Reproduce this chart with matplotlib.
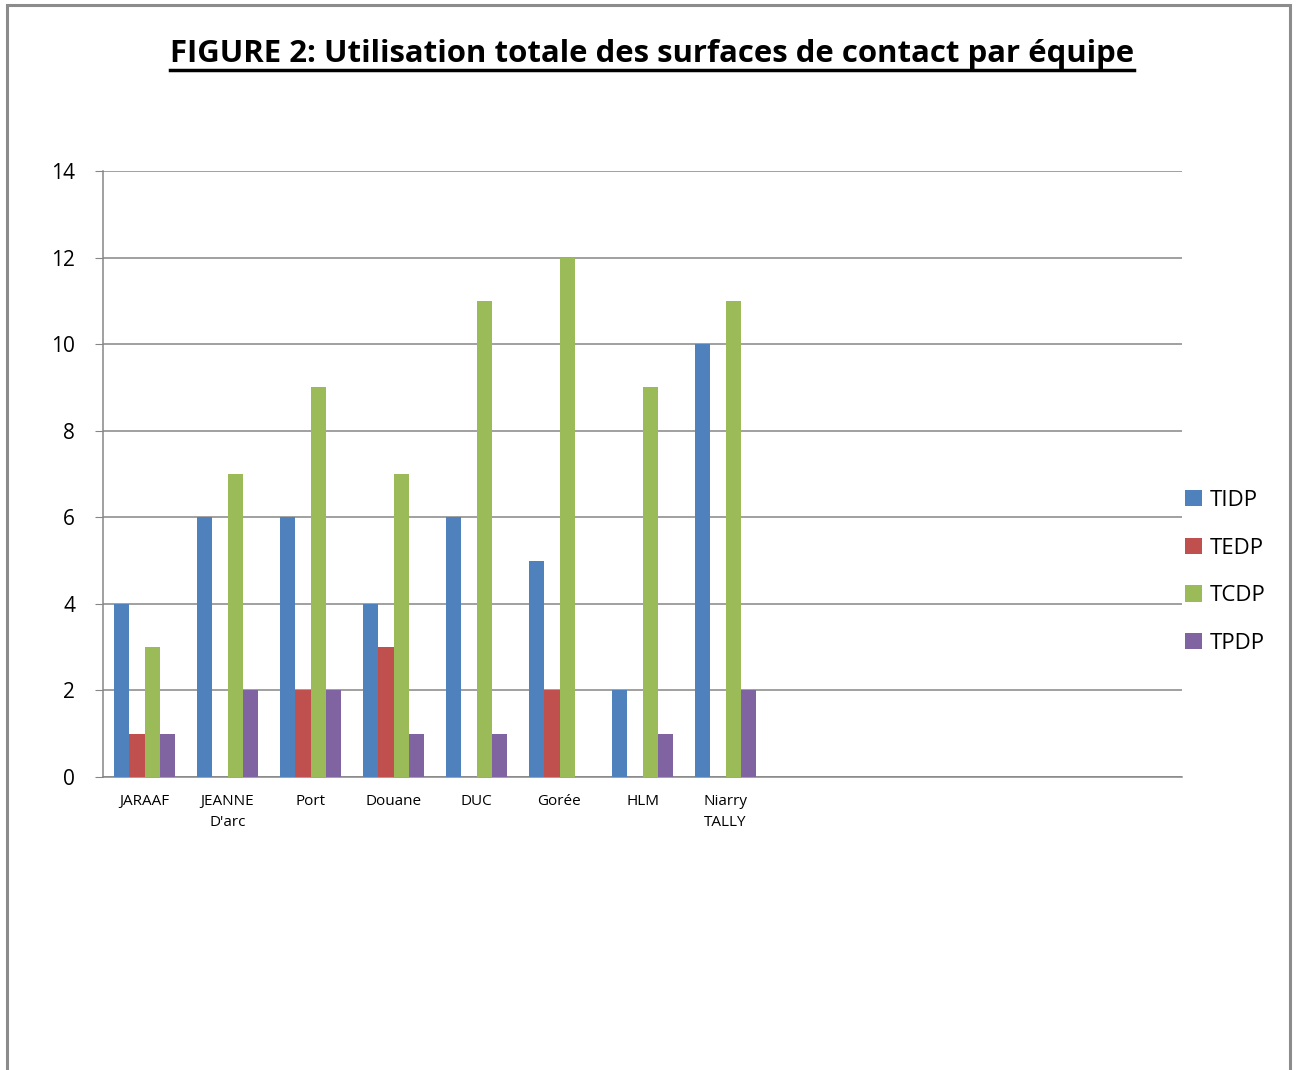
import matplotlib
matplotlib.use('Agg')
import matplotlib.pyplot as plt
import numpy as np
from matplotlib.patches import Rectangle
from matplotlib.lines import Line2D

# data
teams = ['JARAAF', 'JEANNE\nD\'arc', 'Port', 'Douane', 'DUC', 'Gorée', 'HLM', 'Niarry\nTALLY',
         '', '', '', '', '']
tidp = [4, 6, 6, 4, 6, 5, 2, 10]
tedp = [1, 0, 2, 3, 0, 2, 0, 0]
tcdp = [3, 7, 9, 7, 11, 12, 9, 11]
tpdp = [1, 2, 2, 1, 1, 0, 1, 2]
series_names = ['TIDP', 'TEDP', 'TCDP', 'TPDP']
colors = ['#4F81BD', '#C0504D', '#9BBB59', '#8064A2']
title = 'FIGURE 2: Utilisation totale des surfaces de contact par équipe'

W, H = 1296, 1070
fig = plt.figure(figsize=(W / 100, H / 100), dpi=100)
fig.patch.set_facecolor('white')

# page border
fig.patches.append(Rectangle((7 / W, -0.05), (1290 - 7) / W, 1.05 - 5 / H,
                             transform=fig.transFigure, fill=False,
                             edgecolor='#8c8c8c', linewidth=2.2))

ax = fig.add_axes([103 / W, 1 - 777 / H, (1182 - 103) / W, (777 - 171) / H])

bw = 1 / 5.5
x = np.arange(len(teams))
xd = np.arange(len(tidp))
for i, (vals, col, name) in enumerate(zip([tidp, tedp, tcdp, tpdp], colors, series_names)):
    ax.bar(xd + (i - 1.5) * bw, vals, width=bw, color=col, label=name, zorder=3)

ax.set_xlim(-0.5, len(teams) - 0.5)
ax.set_ylim(0, 14)
ax.set_yticks(range(0, 15, 2))
ax.yaxis.grid(True, color='#868686', linewidth=1.1, zorder=0)
ax.set_xticks(x)
ax.set_xticklabels(teams, fontsize=11, family='Open Sans', linespacing=1.6)
ax.tick_params(axis='x', length=0, pad=12)
ax.tick_params(axis='y', length=6, color='#868686', labelsize=15, pad=14)
for lbl in ax.get_yticklabels():
    lbl.set_family('Open Sans')
for s in ['top', 'right']:
    ax.spines[s].set_visible(False)
for s in ['left', 'bottom']:
    ax.spines[s].set_color('#868686')
    ax.spines[s].set_linewidth(1.1)

leg = ax.legend(loc='center left', bbox_to_anchor=(1.0, (777 - 572) / 606), frameon=False,
                prop={'family': 'Open Sans', 'size': 16}, handlelength=0.75,
                handleheight=0.75, handletextpad=0.35, labelspacing=1.2,
                borderaxespad=0.0, borderpad=0.15)

t = fig.text(652 / W, 1 - 54 / H, title, ha='center', va='center', fontsize=22.4,
             fontweight='bold', family='Open Sans')

# underline under the title
fig.canvas.draw()
bb = t.get_window_extent(fig.canvas.get_renderer()).transformed(fig.transFigure.inverted())
fig.add_artist(Line2D([bb.x0, bb.x1], [1 - 70 / H] * 2, transform=fig.transFigure,
                      color='black', linewidth=2.5))

fig.savefig('out.png', dpi=100)
